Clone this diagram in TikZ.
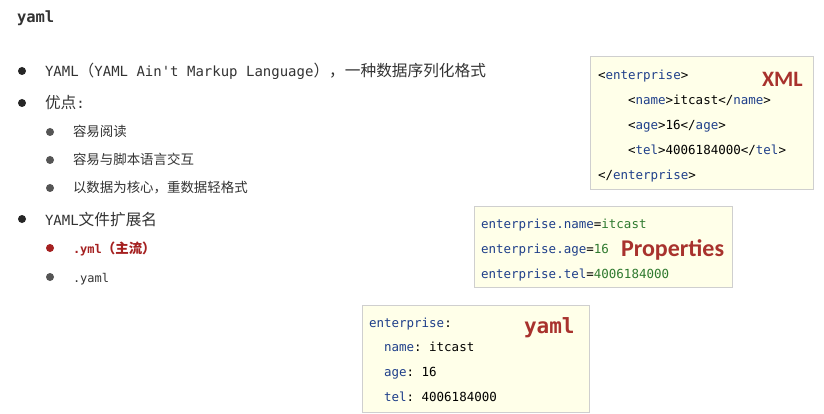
\documentclass[tikz,border=0pt]{standalone}
\usepackage{fontspec}
\setmonofont{DejaVu Sans Mono}
\newfontfamily\cjk[Scale=1.12]{Noto Sans CJK SC}
\newfontfamily\labelfont{Carlito}
\usetikzlibrary{positioning}

\definecolor{textgray}{HTML}{333333}
\definecolor{dotgray}{HTML}{555555}
\definecolor{keyblue}{HTML}{1F3F8A}
\definecolor{valgreen}{HTML}{2F7A2F}
\definecolor{labelred}{HTML}{A8322D}
\definecolor{ymlred}{HTML}{A52020}
\definecolor{boxfill}{HTML}{FFFFE9}
\definecolor{boxline}{HTML}{CFCFCF}

\newcommand\zh[1]{{\cjk #1}}
\newcommand\kw[1]{\textcolor{keyblue}{#1}}
\newcommand\vl[1]{\textcolor{valgreen}{#1}}

\begin{document}
\begin{tikzpicture}[x=1pt,y=-1pt,
  every node/.style={inner sep=0pt,outer sep=0pt},
  txt/.style={anchor=base west,text=textgray,font=\ttfamily\fontsize{14}{16}\selectfont},
  subtxt/.style={anchor=base west,text=textgray,font=\ttfamily\fontsize{12}{15}\selectfont},
  dot/.style={circle,fill=#1,minimum size=8pt},
  codebox/.style={draw=boxline,fill=boxfill,line width=1pt,anchor=north west},
  code/.style={anchor=base west,text=black,font=\ttfamily\fontsize{12.5}{15}\selectfont},
  tag/.style={anchor=base west,text=labelred,font=\labelfont\bfseries\fontsize{24}{26}\selectfont}
]
\useasboundingbox[fill=white] (0,0) rectangle (824,414);

% title
\node[anchor=base west,text=textgray,font=\ttfamily\bfseries\fontsize{15.5}{17}\selectfont] (title) at (17,23) {yaml};

% bullets
\node[dot=black!85] (b1) at (22,71) {};
\node[txt] (t1) at (45,77) {YAML\zh{（}YAML Ain't Markup Language\zh{），一种数据序列化格式}};
\node[dot=black!85] (b2) at (22,103) {};
\node[txt] (t2) at (45,109) {\zh{优点}:};
\node[dot=dotgray] (b21) at (50,132) {};
\node[subtxt] (t21) at (73,137) {\zh{容易阅读}};
\node[dot=dotgray] (b22) at (50,160) {};
\node[subtxt] (t22) at (73,165) {\zh{容易与脚本语言交互}};
\node[dot=dotgray] (b23) at (50,188) {};
\node[subtxt] (t23) at (73,193) {\zh{以数据为核心，重数据轻格式}};
\node[dot=black!85] (b3) at (22,219) {};
\node[txt] (t3) at (45,225) {YAML\zh{文件扩展名}};
\node[dot=ymlred] (b31) at (50,248) {};
\node[subtxt,text=ymlred] (t31) at (73,253) {\textbf{.yml\zh{（主流）}}};
\node[dot=dotgray] (b32) at (50,277) {};
\node[subtxt] (t32) at (73,282) {.yaml};

% XML box
\node[codebox,minimum width=223pt,minimum height=133pt] (xmlbox) at (590,57) {};
\node[code] (x1) at (598,80) {<\kw{enterprise}>};
\node[code] (x2) at (628,105) {<\kw{name}>itcast</\kw{name}>};
\node[code] (x3) at (628,130) {<\kw{age}>16</\kw{age}>};
\node[code] (x4) at (628,155) {<\kw{tel}>4006184000</\kw{tel}>};
\node[code] (x5) at (598,180) {</\kw{enterprise}>};
\node[tag,font=\labelfont\bfseries\fontsize{22}{24}\selectfont] (xmllbl) at (762,87) {XML};

% Properties box
\node[codebox,minimum width=258pt,minimum height=81pt] (propbox) at (474,206) {};
\node[code] (p1) at (481,228) {\kw{enterprise.name}=\vl{itcast}};
\node[code] (p2) at (481,253) {\kw{enterprise.age}=\vl{16}};
\node[code] (p3) at (481,278) {\kw{enterprise.tel}=\vl{4006184000}};
\node[tag] (proplbl) at (621,256) {Properties};

% yaml box
\node[codebox,minimum width=227pt,minimum height=107pt] (ymlbox) at (362,305) {};
\node[code] (y1) at (369,327) {\kw{enterprise}:};
\node[code] (y2) at (384,351) {\kw{name}: itcast};
\node[code] (y3) at (384,376) {\kw{age}: 16};
\node[code] (y4) at (384,401) {\kw{tel}: 4006184000};
\node[anchor=base west,text=labelred,font=\ttfamily\bfseries\fontsize{21}{24}\selectfont] (ymllbl) at (524,333) {yaml};
\end{tikzpicture}
\end{document}
